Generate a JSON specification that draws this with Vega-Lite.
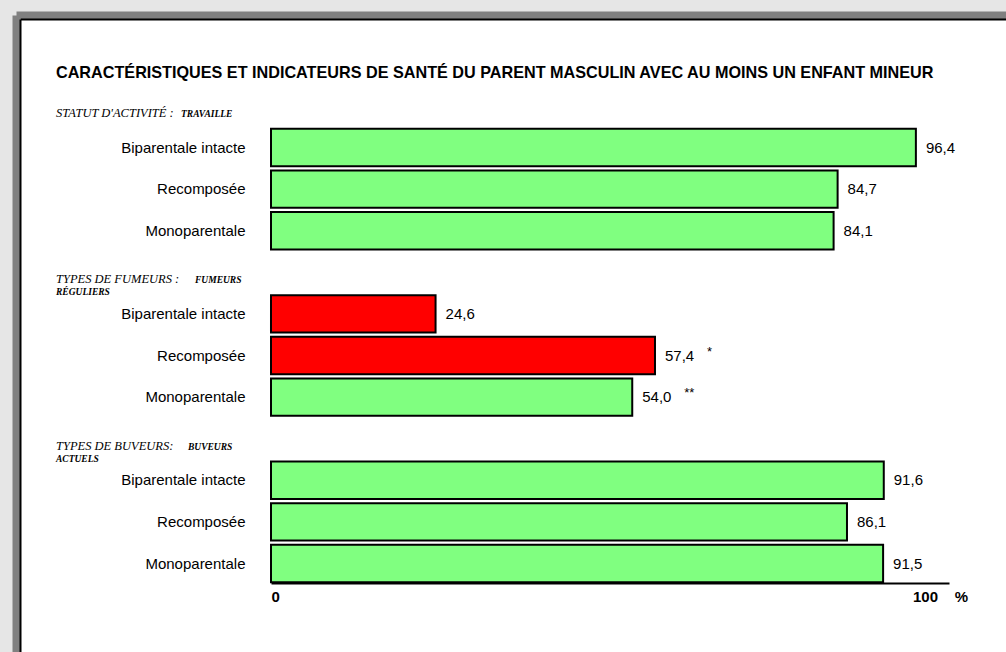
{
  "$schema": "https://vega.github.io/schema/vega-lite/v6.json",
  "width": 986,
  "height": 633,
  "autosize": {"type": "none"},
  "padding": {"left": 20, "top": 19, "right": 0, "bottom": 0},
  "background": "#e6e6e6",
  "config": {
    "view": {"stroke": null, "fill": "white"},
    "font": "Liberation Sans",
    "axis": {"grid": false},
    "locale": {"number": {"decimal": ",", "thousands": "\u00a0", "grouping": [3], "currency": ["", "\u00a0€"]}}
  },
  "datasets": {
    "donnees": [
      {"section": "activite", "famille": "Biparentale intacte", "pourcentage": 96.4, "mise_en_evidence": "non", "signif": ""},
      {"section": "activite", "famille": "Recomposée", "pourcentage": 84.7, "mise_en_evidence": "non", "signif": ""},
      {"section": "activite", "famille": "Monoparentale", "pourcentage": 84.1, "mise_en_evidence": "non", "signif": ""},
      {"section": "fumeurs", "famille": "Biparentale intacte", "pourcentage": 24.6, "mise_en_evidence": "oui", "signif": ""},
      {"section": "fumeurs", "famille": "Recomposée", "pourcentage": 57.4, "mise_en_evidence": "oui", "signif": "*"},
      {"section": "fumeurs", "famille": "Monoparentale", "pourcentage": 54.0, "mise_en_evidence": "non", "signif": "**"},
      {"section": "buveurs", "famille": "Biparentale intacte", "pourcentage": 91.6, "mise_en_evidence": "non", "signif": ""},
      {"section": "buveurs", "famille": "Recomposée", "pourcentage": 86.1, "mise_en_evidence": "non", "signif": ""},
      {"section": "buveurs", "famille": "Monoparentale", "pourcentage": 91.5, "mise_en_evidence": "non", "signif": ""}
    ],
    "rubriques": [
      {"ligne": "h1", "intitule": "STATUT D'ACTIVITÉ :", "precision": "TRAVAILLE", "suite": ""},
      {"ligne": "h2", "intitule": "TYPES DE FUMEURS :", "precision": "FUMEURS", "suite": "RÉGULIERS"},
      {"ligne": "h3", "intitule": "TYPES DE BUVEURS:", "precision": "BUVEURS", "suite": "ACTUELS"}
    ]
  },
  "resolve": {
    "scale": {"x": "independent", "y": "independent"},
    "axis": {"x": "independent", "y": "independent"}
  },
  "layer": [
    {
      "data": {"values": [{}]},
      "mark": {"type": "point", "opacity": 0},
      "encoding": {
        "x": {"datum": 0, "type": "quantitative", "scale": {"domain": [0, 1]},
          "axis": {"orient": "top", "offset": 4, "domainColor": "#808080", "domainWidth": 8, "domainCap": "square", "ticks": false, "labels": false, "grid": false, "title": null}},
        "y": {"datum": 0, "type": "quantitative", "scale": {"domain": [0, 1]},
          "axis": {"orient": "left", "offset": 4, "domainColor": "#808080", "domainWidth": 8, "domainCap": "square", "ticks": false, "labels": false, "grid": false, "title": null}}
      }
    },
    {
      "data": {"values": [{}]},
      "mark": {"type": "point", "opacity": 0},
      "encoding": {
        "x": {"datum": 0, "type": "quantitative", "scale": {"domain": [0, 1]},
          "axis": {"orient": "top", "offset": 0, "domainColor": "black", "domainWidth": 2, "ticks": false, "labels": false, "grid": false, "title": null}},
        "y": {"datum": 0, "type": "quantitative", "scale": {"domain": [0, 1]},
          "axis": {"orient": "left", "offset": 0, "domainColor": "black", "domainWidth": 2, "ticks": false, "labels": false, "grid": false, "title": null}}
      }
    },
    {
      "data": {"name": "donnees"},
      "transform": [{"calculate": "datum.section + '|' + datum.famille", "as": "ligne"}],
      "layer": [
        {
          "mark": {"type": "bar", "stroke": "black", "strokeWidth": 2},
          "encoding": {
            "y": {"field": "ligne", "type": "nominal",
              "scale": {"domain": ["titre", "h1", "activite|Biparentale intacte", "activite|Recomposée", "activite|Monoparentale", "h2", "fumeurs|Biparentale intacte", "fumeurs|Recomposée", "fumeurs|Monoparentale", "h3", "buveurs|Biparentale intacte", "buveurs|Recomposée", "buveurs|Monoparentale"],
                "range": [24.5, 565.3], "paddingInner": 0.1, "paddingOuter": 0.05},
              "axis": {"orient": "left", "offset": -251, "domain": false, "ticks": false, "tickSize": 0, "labelPadding": 26, "labelFontSize": 15, "labelColor": "black", "labelFont": "Liberation Sans", "labelLimit": 0,
                "labelExpr": "indexof(datum.value, '|') >= 0 ? split(datum.value, '|')[1] : ''", "title": null}},
            "x": {"field": "pourcentage", "type": "quantitative",
              "scale": {"domain": [0, 101.35], "range": [251, 929], "nice": false},
              "axis": {"orient": "bottom", "offset": -69, "values": [0, 100], "domainColor": "black", "domainWidth": 2, "ticks": false, "tickSize": 0, "labelPadding": 6, "labelFontSize": 15, "labelFontWeight": "bold", "labelColor": "black", "labelFlush": true,
                "labelExpr": "datum.value == 100 ? '100\u00a0\u00a0\u00a0\u00a0%' : datum.label", "title": null}},
            "fill": {"field": "mise_en_evidence", "type": "nominal", "scale": {"domain": ["non", "oui"], "range": ["#80ff80", "#ff0000"]}, "legend": null}
          }
        },
        {
          "mark": {"type": "text", "align": "left", "baseline": "middle", "dx": 10, "fontSize": 15, "color": "black"},
          "encoding": {
            "y": {"field": "ligne", "type": "nominal"},
            "x": {"field": "pourcentage", "type": "quantitative"},
            "text": {"field": "pourcentage", "type": "quantitative", "format": ".1f"}
          }
        },
        {
          "transform": [{"filter": "datum.signif != ''"}],
          "mark": {"type": "text", "align": "left", "baseline": "alphabetic", "dx": 52, "dy": 0, "fontSize": 13, "color": "black"},
          "encoding": {
            "y": {"field": "ligne", "type": "nominal"},
            "x": {"field": "pourcentage", "type": "quantitative"},
            "text": {"field": "signif", "type": "nominal"}
          }
        },
        {
          "data": {"name": "rubriques"},
          "mark": {"type": "text", "align": "left", "baseline": "alphabetic", "dy": 11, "font": "Liberation Serif", "fontStyle": "italic", "fontSize": 12.5, "color": "black"},
          "encoding": {
            "y": {"field": "ligne", "type": "nominal"},
            "x": {"datum": -32.14, "type": "quantitative"},
            "text": {"field": "intitule", "type": "nominal"}
          }
        },
        {
          "data": {"name": "rubriques"},
          "transform": [{"filter": "datum.ligne == 'h1'"}],
          "mark": {"type": "text", "align": "left", "baseline": "alphabetic", "dy": 11, "dx": 125, "font": "Liberation Serif", "fontStyle": "italic", "fontWeight": "bold", "fontSize": 9.5, "color": "black"},
          "encoding": {
            "y": {"field": "ligne", "type": "nominal"},
            "x": {"datum": -32.14, "type": "quantitative"},
            "text": {"field": "precision", "type": "nominal"}
          }
        },
        {
          "data": {"name": "rubriques"},
          "transform": [{"filter": "datum.ligne == 'h2'"}],
          "mark": {"type": "text", "align": "left", "baseline": "alphabetic", "dy": 11, "dx": 139, "font": "Liberation Serif", "fontStyle": "italic", "fontWeight": "bold", "fontSize": 9.5, "color": "black"},
          "encoding": {
            "y": {"field": "ligne", "type": "nominal"},
            "x": {"datum": -32.14, "type": "quantitative"},
            "text": {"field": "precision", "type": "nominal"}
          }
        },
        {
          "data": {"name": "rubriques"},
          "transform": [{"filter": "datum.ligne == 'h3'"}],
          "mark": {"type": "text", "align": "left", "baseline": "alphabetic", "dy": 11, "dx": 132, "font": "Liberation Serif", "fontStyle": "italic", "fontWeight": "bold", "fontSize": 9.5, "color": "black"},
          "encoding": {
            "y": {"field": "ligne", "type": "nominal"},
            "x": {"datum": -32.14, "type": "quantitative"},
            "text": {"field": "precision", "type": "nominal"}
          }
        },
        {
          "data": {"name": "rubriques"},
          "transform": [{"filter": "datum.suite != ''"}],
          "mark": {"type": "text", "align": "left", "baseline": "alphabetic", "dy": 23, "font": "Liberation Serif", "fontStyle": "italic", "fontWeight": "bold", "fontSize": 9.5, "color": "black"},
          "encoding": {
            "y": {"field": "ligne", "type": "nominal"},
            "x": {"datum": -32.14, "type": "quantitative"},
            "text": {"field": "suite", "type": "nominal"}
          }
        },
        {
          "data": {"values": [{}]},
          "mark": {"type": "text", "text": "CARACTÉRISTIQUES ET INDICATEURS DE SANTÉ DU PARENT MASCULIN AVEC AU MOINS UN ENFANT MINEUR", "align": "left", "baseline": "alphabetic", "dy": 14, "font": "Liberation Sans", "fontWeight": "bold", "fontSize": 16.2, "color": "black"},
          "encoding": {
            "y": {"datum": "titre", "type": "nominal"},
            "x": {"datum": -32.14, "type": "quantitative"}
          }
        }
      ]
    }
  ]
}
